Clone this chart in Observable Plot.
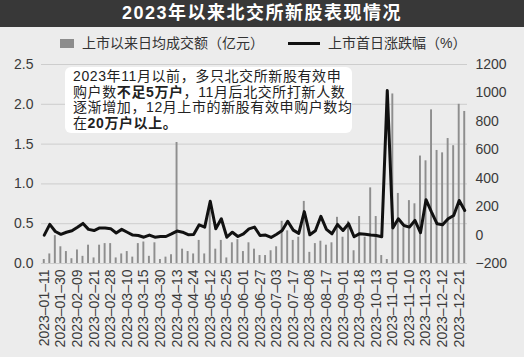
<!DOCTYPE html>
<html>
<head>
<meta charset="utf-8">
<script src="https://cdn.jsdelivr.net/npm/d3@7"></script>
<script src="https://cdn.jsdelivr.net/npm/@observablehq/plot@0.6"></script>
<style>
  html, body { margin: 0; padding: 0; background: #ececec; }
  #wrap { position: relative; width: 524px; height: 357px; background: #ececec; overflow: hidden;
          font-family: "Liberation Sans", Arial, "Noto Sans CJK SC", sans-serif; }
  #title { position: absolute; left: 0; top: 0; width: 524px; height: 27px; background: #383838; color: #fff;
           font: bold 18px "Liberation Sans", "Noto Sans CJK SC", sans-serif; letter-spacing: 1.5px;
           text-align: center; line-height: 27px; z-index: 3; }
  #legend { position: absolute; left: 0; top: 34px; width: 524px; height: 18px; font-size: 14px; color: #333;
            font-family: "Liberation Sans", "Noto Sans CJK SC", sans-serif; z-index: 3; }
  #legend span { position: absolute; top: 0; line-height: 18px; white-space: nowrap; }
  #chart { position: absolute; left: 0; top: 0; z-index: 1; }
  #note { position: absolute; left: 65px; top: 67px; width: 279px; height: 64px; padding: 2px 0 0 8px;
          background: #fff; border-radius: 6px; z-index: 2; color: #222; font-size: 14px; line-height: 15.6px;
          letter-spacing: 0.6px; font-family: "Liberation Sans", "Noto Sans CJK SC", sans-serif; white-space: nowrap; }
  #note b { font-weight: bold; }
</style>
</head>
<body>
<div id="wrap">
  <div id="title">2023年以来北交所新股表现情况</div>
  <div id="legend">
    <span style="left:60px;top:5px;width:14px;height:9px;background:#8c8c8c"></span>
    <span style="left:82px">上市以来日均成交额（亿元）</span>
    <span style="left:288px;top:8px;width:32px;height:3px;background:#111"></span>
    <span style="left:328px">上市首日涨跌幅（%）</span>
  </div>
  <div id="chart"></div>
  <div id="note">2023年11月以前，多只北交所新股有效申<br>购户数<b>不足5万户</b>，11月后北交所打新人数<br>逐渐增加，12月上市的新股有效申购户数均<br>在<b>20万户以上。</b></div>
</div>
<script>
// Listing dates (every third one is labelled on the axis)
const dates = [
  "2023-01-11","2023-01-17","2023-01-19","2023-01-30","2023-02-02","2023-02-06","2023-02-09","2023-02-14","2023-02-16",
  "2023-02-21","2023-02-23","2023-02-27","2023-02-28","2023-03-02","2023-03-07","2023-03-10","2023-03-13","2023-03-14",
  "2023-03-15","2023-03-21","2023-03-28","2023-03-30","2023-04-04","2023-04-11","2023-04-13","2023-04-18","2023-04-20",
  "2023-04-24","2023-05-08","2023-05-10","2023-05-12","2023-05-16","2023-05-19","2023-05-25","2023-05-29","2023-05-31",
  "2023-06-01","2023-06-12","2023-06-20","2023-06-27","2023-06-28","2023-06-30","2023-07-03","2023-07-06","2023-07-12",
  "2023-07-17","2023-07-25","2023-08-01","2023-08-08","2023-08-10","2023-08-15","2023-08-17","2023-08-22","2023-08-29",
  "2023-09-01","2023-09-05","2023-09-12","2023-09-18","2023-09-21","2023-09-28","2023-10-13","2023-10-18","2023-10-26",
  "2023-11-01","2023-11-03","2023-11-08","2023-11-10","2023-11-15","2023-11-20","2023-11-23","2023-11-28","2023-12-05",
  "2023-12-12","2023-12-14","2023-12-19","2023-12-21","2023-12-27"
];
// 上市以来日均成交额（亿元）
const turnover = [
  0.05,0.12,0.35,0.21,0.15,0.06,0.17,0.09,0.23,
  0.07,0.23,0.25,0.25,0.07,0.12,0.15,0.08,0.25,
  0.27,0.09,0.26,0.05,0.08,0.11,1.52,0.18,0.15,
  0.12,0.29,0.12,0.75,0.18,0.29,0.07,0.26,0.30,
  0.15,0.26,0.18,0.10,0.10,0.16,0.21,0.53,0.41,
  0.29,0.33,0.78,0.14,0.25,0.28,0.23,0.26,0.58,
  0.33,0.53,0.16,0.59,0.33,0.95,0.59,0.10,0.05,
  2.13,0.88,0.45,0.79,0.75,1.35,1.29,1.93,1.42,
  1.39,1.57,1.48,2.00,1.91
];
// 上市首日涨跌幅（%）
const firstDayPct = [
  0,75,25,5,20,30,55,82,40,
  32,50,50,45,15,40,20,0,-3,
  -15,0,-15,-10,-10,8,28,20,3,
  4,72,56,238,44,115,-15,20,-10,
  9,44,56,-3,0,-17,6,32,97,
  35,12,165,2,30,132,40,9,75,
  32,80,-12,10,5,0,-3,-12,1017,
  50,115,67,56,103,17,249,161,79,
  72,115,138,243,173
];
const leftTicks = [0, 0.5, 1.0, 1.5, 2.0, 2.5];
const rightTicks = [-200, 0, 200, 400, 600, 800, 1000, 1200];
const xTickLabels = dates.filter((d, i) => i % 3 === 0);

const rows = dates.map((d, i) => ({date: d, turnover: turnover[i], pct: firstDayPct[i]}));
const R0 = rightTicks[0], R1 = rightTicks[rightTicks.length - 1];
const L1 = leftTicks[leftTicks.length - 1];
const toLeft = v => (v - R0) / (R1 - R0) * L1;
const fromLeft = v => v / L1 * (R1 - R0) + R0;
const fmtRight = v => { const r = Math.round(v); return r < 0 ? "\u2212" + Math.abs(r) : String(r); };

const chart = Plot.plot({
  width: 524,
  height: 357,
  marginTop: 64,
  marginBottom: 94,
  marginLeft: 41,
  marginRight: 57,
  style: {background: "transparent", fontFamily: "'Liberation Sans', Arial, sans-serif", fontSize: "14px", color: "#3a3a3a", overflow: "visible"},
  x: {type: "band", domain: dates, padding: 0, align: 0.5, label: null},
  y: {domain: [0, L1], label: null},
  marks: [
    Plot.gridY(leftTicks, {stroke: "#cdcdcd", strokeOpacity: 1, strokeWidth: 1}),
    Plot.barY(rows, {x: "date", y: "turnover", fill: "#8e8e8e", insetLeft: 1.8, insetRight: 1.8}),
    Plot.line(rows, {x: "date", y: d => toLeft(d.pct), stroke: "#111", strokeWidth: 3, strokeLinejoin: "round"}),
    Plot.axisY(leftTicks, {anchor: "left", tickSize: 0, tickPadding: 8, tickFormat: d => d.toFixed(1), label: null}),
    Plot.axisY(rightTicks.map(toLeft), {anchor: "right", tickSize: 0, tickPadding: 8, tickFormat: d => fmtRight(fromLeft(d)), label: null}),
    Plot.axisX(xTickLabels, {anchor: "bottom", tickRotate: -90, tickSize: 0, tickPadding: 6, tickFormat: d => d.replace(/-/g, "\u2013"), label: null})
  ]
});
document.getElementById("chart").appendChild(chart);
</script>
</body>
</html>
